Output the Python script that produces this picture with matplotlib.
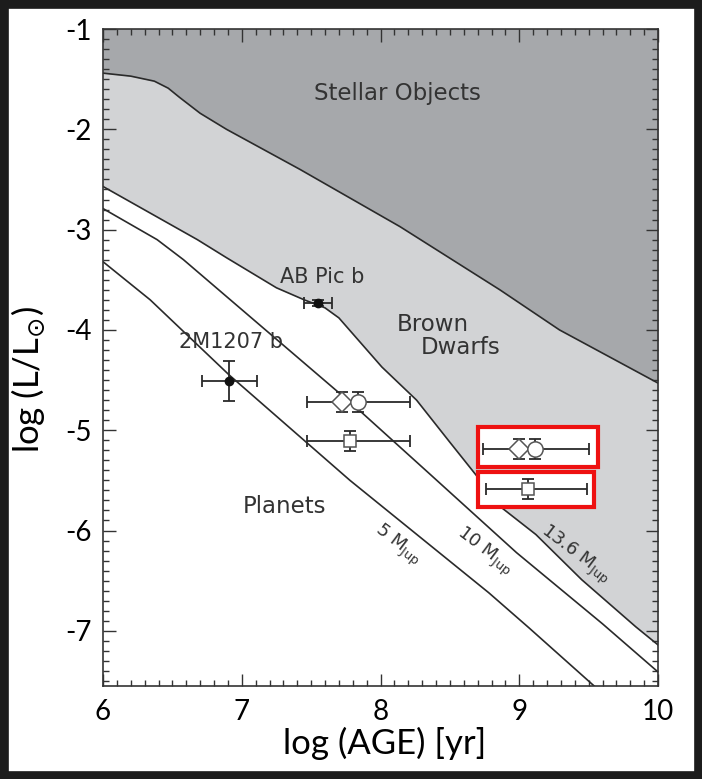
import numpy as np
import matplotlib
matplotlib.use('Agg')
import matplotlib.pyplot as plt
from matplotlib.patches import Rectangle
from matplotlib.ticker import MultipleLocator

plt.rcParams['axes.unicode_minus'] = False
plt.rcParams['mathtext.fontset'] = 'dejavusans'

# ── boundary curves: log(age) vs log(L/Lsun) ────────────────────────────────
star_age = [6.0, 6.2, 6.37, 6.47, 6.55, 6.7, 6.89, 7.42, 8.14, 8.86, 9.29, 10.0]
star_lum = [-1.44, -1.47, -1.52, -1.59, -1.68, -1.84, -2.00, -2.40, -2.97, -3.60, -4.00, -4.53]

d136_age = [6.0, 6.68, 6.89, 7.25, 7.45, 7.60, 7.70, 8.01, 8.26, 8.50, 8.65, 8.88, 9.12, 9.45, 9.84, 10.0]
d136_lum = [-2.57, -3.10, -3.28, -3.58, -3.70, -3.78, -3.88, -4.37, -4.70, -5.12, -5.38, -5.78, -6.04, -6.49, -6.96, -7.14]

d10_age = [6.0, 6.39, 6.58, 7.83, 8.35, 8.98, 9.60, 10.0]
d10_lum = [-2.79, -3.10, -3.30, -4.78, -5.43, -6.22, -6.93, -7.41]

d5_age = [6.0, 6.34, 6.91, 7.78, 8.78, 9.07, 9.54]
d5_lum = [-3.32, -3.70, -4.45, -5.50, -6.62, -6.97, -7.55]

# ── known companions (filled) ───────────────────────────────────────────────
known_names = ['2M1207 b', 'AB Pic b']
known_age = [6.91, 7.55]
known_age_err = [0.20, 0.10]
known_lum = [-4.51, -3.73]
known_lum_err = [0.20, 0.03]

# ── new object estimates (open symbols) ─────────────────────────────────────
pair_lum = [-4.72, -5.19]
pair_age_lo = [7.47, 8.74]
pair_age_hi = [8.21, 9.50]
diamond_age = [7.72, 9.00]
circle_age = [7.84, 9.11]
square_age = [7.78, 9.06]
square_lum = [-5.11, -5.59]
square_age_lo = [7.47, 8.76]
square_age_hi = [8.21, 9.49]
open_lum_err = 0.1

DARK = '#a6a8ab'
LIGHT = '#d2d3d5'
INK = '#2a2a2a'
TXT = '#333333'

fig = plt.figure(figsize=(7.02, 7.79), dpi=100)
fig.patch.set_facecolor('white')
ax = fig.add_axes([103 / 702, 1 - 686 / 779, 555 / 702, 657 / 779])

# regions
ax.fill_between(d136_age, d136_lum, 0, color=LIGHT, lw=0, zorder=1)
ax.fill_between(star_age, star_lum, 0, color=DARK, lw=0, zorder=1.5)
for a, l in [(star_age, star_lum), (d136_age, d136_lum), (d10_age, d10_lum), (d5_age, d5_lum)]:
    ax.plot(a, l, color=INK, lw=1.2, zorder=2, solid_joinstyle='round')

# highlight boxes
for (x0, x1, y0, y1) in [(8.70, 9.57, -5.37, -4.97), (8.70, 9.54, -5.77, -5.42)]:
    ax.add_patch(Rectangle((x0, y0), x1 - x0, y1 - y0, facecolor='white',
                           edgecolor='#ee1111', lw=3.0, zorder=3))

eb = dict(ecolor=INK, elinewidth=1.3, capsize=4, capthick=1.3, zorder=4)

# known companions
ax.errorbar(known_age, known_lum, xerr=known_age_err, yerr=known_lum_err,
            fmt='o', ms=6, mfc='#111111', mec='#111111', **eb)

# horizontal age ranges
pair_mid = (np.array(pair_age_lo) + np.array(pair_age_hi)) / 2
pair_half = (np.array(pair_age_hi) - np.array(pair_age_lo)) / 2
ax.errorbar(pair_mid, pair_lum, xerr=pair_half, fmt='none', **eb)
sq_mid = (np.array(square_age_lo) + np.array(square_age_hi)) / 2
sq_half = (np.array(square_age_hi) - np.array(square_age_lo)) / 2
ax.errorbar(sq_mid, square_lum, xerr=sq_half, fmt='none', **eb)

# luminosity error bars + open symbols
ax.errorbar(diamond_age, pair_lum, yerr=open_lum_err, fmt='none', **eb)
ax.errorbar(circle_age, pair_lum, yerr=open_lum_err, fmt='none', **eb)
ax.errorbar(square_age, square_lum, yerr=open_lum_err, fmt='none', **eb)
mk = dict(mfc='white', mec='#555555', mew=1.1, ls='none', zorder=5)
ax.plot(diamond_age, pair_lum, marker='D', ms=10, **mk)
ax.plot(circle_age, pair_lum, marker='o', ms=11, **mk)
ax.plot(square_age, square_lum, marker='s', ms=9, **mk)

# labels inside the plot
tk = dict(color=TXT, fontsize=16.5, family='DejaVu Sans', ha='center', va='center', zorder=6)
ax.text(8.12, -1.64, 'Stellar Objects', **tk)
ax.text(8.38, -3.95, 'Brown', **tk)
ax.text(8.58, -4.18, 'Dwarfs', **tk)
ax.text(7.31, -5.76, 'Planets', **tk)
ax.text(7.58, -3.47, known_names[1], **dict(tk, fontsize=15))
ax.text(6.92, -4.12, known_names[0], **dict(tk, fontsize=15))
mj = dict(tk, fontsize=13, rotation=-37, rotation_mode='anchor')
ax.text(8.12, -6.14, r'5 M$_{\rm Jup}$', **mj)
ax.text(8.75, -6.21, r'10 M$_{\rm Jup}$', **mj)
ax.text(9.40, -6.24, r'13.6 M$_{\rm Jup}$', **mj)

# axes
ax.set_xlim(6, 10)
ax.set_ylim(-7.55, -1.0)
ax.xaxis.set_major_locator(MultipleLocator(1))
ax.xaxis.set_minor_locator(MultipleLocator(0.1))
ax.yaxis.set_major_locator(MultipleLocator(1))
ax.yaxis.set_minor_locator(MultipleLocator(0.1))
ax.tick_params(which='both', direction='in', top=True, right=True, color='#333333', width=1)
ax.tick_params(which='major', length=9)
ax.tick_params(which='minor', length=4.5)
ax.tick_params(axis='x', pad=9, labelsize=20)
ax.tick_params(axis='y', pad=8, labelsize=20)
for lab in ax.get_xticklabels() + ax.get_yticklabels():
    lab.set_family('Lato')
for s in ax.spines.values():
    s.set_color('#333333')
    s.set_linewidth(1.2)

ax.set_xlabel('log (AGE) [yr]', fontsize=25, family='Lato')
ax.set_ylabel(r'log (L/L$_{\odot}$)', fontsize=25, family='Lato')
ax.xaxis.set_label_coords(0.508, -0.062)
ax.yaxis.set_label_coords(-0.1, 0.466)

# outer frame
fig.patches.append(Rectangle((0, 0), 1, 1, transform=fig.transFigure, fill=False,
                             edgecolor='#1c1c1c', lw=12))

fig.savefig('out.png', dpi=100, facecolor='white')
